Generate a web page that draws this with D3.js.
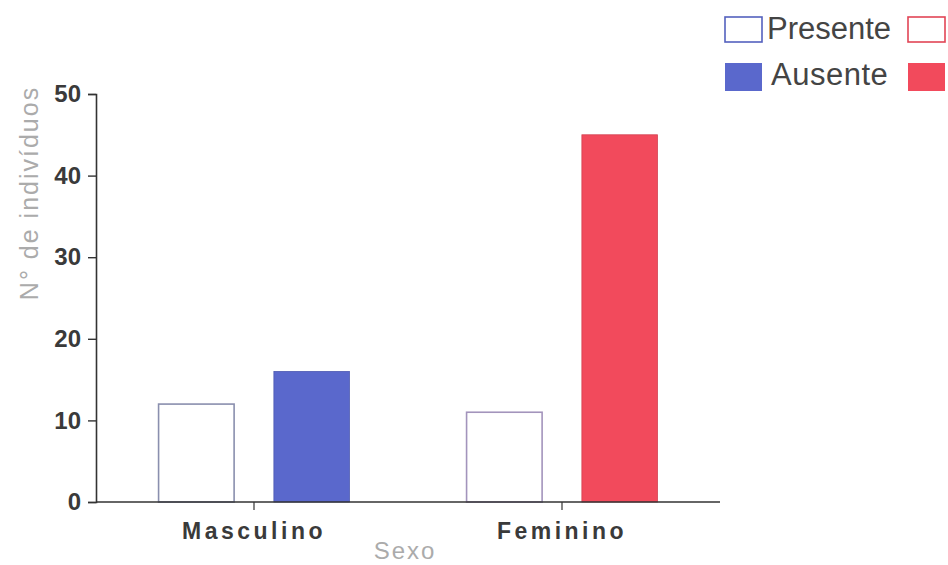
<!DOCTYPE html>
<html>
<head>
<meta charset="utf-8">
<script src="https://cdn.jsdelivr.net/npm/d3@7"></script>
<style>
  html, body { margin: 0; padding: 0; background: #fff; }
  svg { display: block; font-family: "Liberation Sans", Arial, sans-serif; }
</style>
</head>
<body>
<svg id="chart" width="948" height="565"></svg>
<script>
// Data
const categories = ["Masculino", "Feminino"];
const groups = ["Presente", "Ausente"];
const presente = [12, 11];
const ausente = [16, 45];
const yTicks = [0, 10, 20, 30, 40, 50];

// Colours per sex
const sexColor = { Masculino: "#5a68cc", Feminino: "#f24a5c" };
const presenteStroke = { Masculino: "#8a8fae", Feminino: "#a394bc" };

const rows = categories.map((c, i) => ({ sexo: c, Presente: presente[i], Ausente: ausente[i] }));

const svg = d3.select("#chart");

const x0 = d3.scaleBand().domain(categories).range([100, 716]).padding(0);
const x1 = d3.scaleBand().domain(groups).range([0, x0.bandwidth()])
  .paddingInner(0.345).paddingOuter(0.508);
const y = d3.scaleLinear().domain([0, 50]).range([502, 94]);

// Bars
const g = svg.append("g");
rows.forEach(r => {
  groups.forEach(k => {
    const filled = k === "Ausente";
    g.append("rect")
      .attr("x", x0(r.sexo) + x1(k))
      .attr("y", y(r[k]))
      .attr("width", x1.bandwidth())
      .attr("height", y(0) - y(r[k]))
      .attr("fill", filled ? sexColor[r.sexo] : "#fff")
      .attr("stroke", filled ? d3.color(sexColor[r.sexo]).darker(0.4) : presenteStroke[r.sexo])
      .attr("stroke-width", filled ? 0.8 : 1.6);
  });
});

// Y axis
const yAxis = svg.append("g")
  .attr("transform", "translate(96,0)")
  .call(d3.axisLeft(y).tickValues(yTicks).tickSize(8).tickSizeOuter(8).tickPadding(7));
yAxis.select(".domain").attr("stroke", "#333").attr("stroke-width", 1.6);
yAxis.selectAll(".tick line").attr("stroke", "#333").attr("stroke-width", 1.4);
yAxis.selectAll(".tick text")
  .attr("font-size", 24).attr("font-weight", "bold").attr("fill", "#3a3a3a")
  .attr("font-family", "'Liberation Sans', Arial, sans-serif");

// X axis
const xAxis = svg.append("g")
  .attr("transform", `translate(0,${y(0)})`)
  .call(d3.axisBottom(x0).tickSize(8).tickSizeOuter(0).tickPadding(13));
xAxis.select(".domain").attr("d", `M96,0H720`).attr("stroke", "#333").attr("stroke-width", 1.6);
xAxis.selectAll(".tick line").attr("stroke", "#333").attr("stroke-width", 1.2);
xAxis.selectAll(".tick text")
  .attr("font-size", 23).attr("font-weight", "bold").attr("fill", "#3a3a3a")
  .attr("letter-spacing", "3.5px")
  .attr("font-family", "'Liberation Sans', Arial, sans-serif");

// Axis titles
svg.append("text")
  .attr("transform", "translate(38,193) rotate(-90)")
  .attr("text-anchor", "middle")
  .attr("font-size", 25).attr("letter-spacing", "2px")
  .attr("fill", "#ababab")
  .text("N° de indivíduos");

svg.append("text")
  .attr("x", 405).attr("y", 559)
  .attr("text-anchor", "middle")
  .attr("font-size", 24).attr("letter-spacing", "2px")
  .attr("fill", "#ababab")
  .text("Sexo");

// Legend
const legend = svg.append("g");
const rowsY = [17, 63];
groups.forEach((k, gi) => {
  const filled = k === "Ausente";
  categories.forEach((c, ci) => {
    legend.append("rect")
      .attr("x", ci === 0 ? 725 : 908)
      .attr("y", rowsY[gi])
      .attr("width", 37)
      .attr("height", filled ? 28 : 25)
      .attr("fill", filled ? sexColor[c] : "#fff")
      .attr("stroke", filled ? "none" : d3.color(sexColor[c]).darker(0.2))
      .attr("stroke-width", 1.6);
  });
  legend.append("text")
    .attr("x", filled ? 771 : 767)
    .attr("y", rowsY[gi] + 22)
    .attr("font-size", 31)
    .attr("fill", "#444")
    .attr("letter-spacing", filled ? "0.5px" : "0px")
    .text(k);
});
</script>
</body>
</html>
